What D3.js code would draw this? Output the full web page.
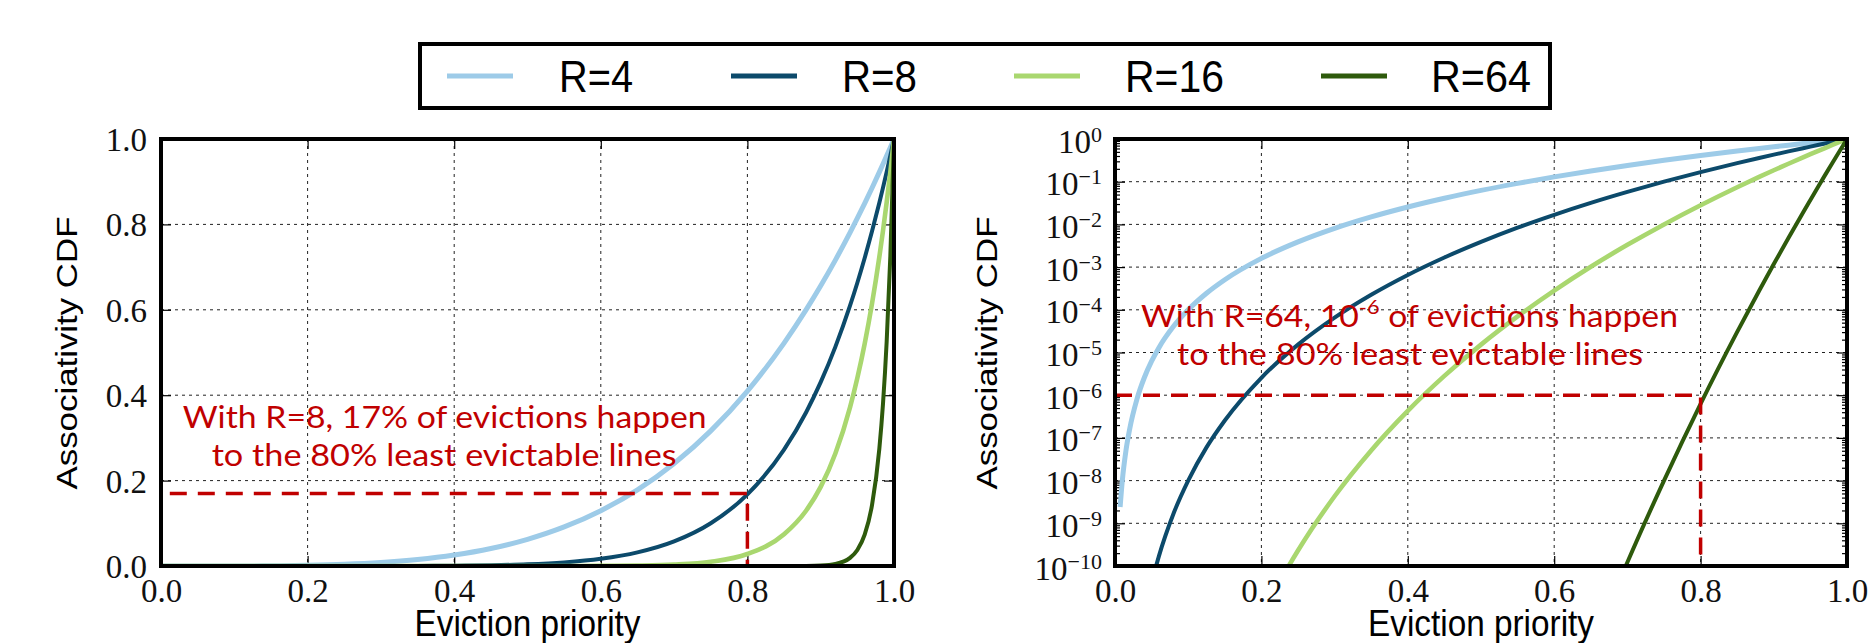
<!DOCTYPE html>
<html><head><meta charset="utf-8">
<script src="https://cdn.jsdelivr.net/npm/d3@7"></script>
<style>body{margin:0;background:#fff;overflow:hidden}</style>
</head><body>
<svg id="c" width="1869" height="643"></svg>
<script>
// ---- data ----
const priority = [0, 0.007, 0.01, 0.015, 0.02, 0.03, 0.04, 0.05, 0.06, 0.08, 0.1, 0.125, 0.15, 0.2, 0.25, 0.3, 0.35, 0.4, 0.45, 0.5, 0.55, 0.6, 0.65, 0.7, 0.75, 0.8, 0.85, 0.88, 0.9, 0.92, 0.94, 0.95, 0.96, 0.97, 0.98, 0.985, 0.99, 0.995, 1.0];
const cdfR4 = [0, 2.4e-9, 1.0e-8, 5.1e-8, 1.6e-7, 8.1e-7, 2.56e-6, 6.25e-6, 1.3e-5, 4.1e-5, 1.0e-4, 2.44e-4, 5.06e-4, 0.0016, 0.0039, 0.0081, 0.015, 0.0256, 0.041, 0.0625, 0.0915, 0.1296, 0.1785, 0.2401, 0.3164, 0.4096, 0.522, 0.5997, 0.6561, 0.7164, 0.7807, 0.8145, 0.8493, 0.8853, 0.9224, 0.9413, 0.9606, 0.9801, 1.0];
const cdfR8 = [0, 5.8e-18, 1e-16, 2.6e-15, 2.6e-14, 6.6e-13, 6.6e-12, 3.9e-11, 1.7e-10, 1.7e-9, 1e-8, 6.0e-8, 2.56e-7, 2.56e-6, 1.53e-5, 6.56e-5, 2.25e-4, 6.55e-4, 0.00168, 0.0039, 0.0084, 0.0168, 0.0319, 0.0576, 0.1001, 0.1678, 0.2725, 0.3596, 0.4305, 0.5132, 0.6096, 0.6634, 0.7214, 0.7837, 0.8508, 0.8861, 0.9227, 0.9607, 1.0];
const cdfR16 = [0, 3.3e-35, 1e-32, 6.6e-30, 6.6e-28, 4.3e-25, 4.3e-23, 1.5e-21, 2.8e-20, 2.8e-18, 1e-16, 3.6e-15, 6.6e-14, 6.6e-12, 2.3e-10, 4.3e-9, 5.1e-8, 4.3e-7, 2.83e-6, 1.53e-5, 7.0e-5, 2.82e-4, 0.00102, 0.00332, 0.01, 0.0281, 0.0743, 0.1293, 0.1853, 0.2634, 0.3716, 0.4401, 0.5204, 0.6143, 0.7238, 0.7852, 0.8515, 0.9229, 1.0];
const cdfR64 = [0, 1.2e-138, 1e-128, 1.9e-117, 1.8e-109, 3.4e-98, 3.4e-90, 5.4e-84, 6.3e-79, 6.3e-71, 1e-64, 1.6e-58, 1.9e-53, 1.8e-45, 2.9e-39, 3.4e-34, 6.6e-30, 3.4e-26, 6.4e-23, 5.4e-20, 2.4e-17, 6.3e-15, 1.06e-12, 1.22e-10, 1.0e-8, 6.3e-7, 3.04e-5, 2.8e-4, 0.00118, 0.0048, 0.0191, 0.0375, 0.0733, 0.1424, 0.2745, 0.3801, 0.5257, 0.7256, 1.0];
const seriesLabels = ["R=4", "R=8", "R=16", "R=64"];
const linTicks = [0, 0.2, 0.4, 0.6, 0.8, 1.0];
const linTickLabels = ["0.0", "0.2", "0.4", "0.6", "0.8", "1.0"];
const logTicks = [1, 1e-1, 1e-2, 1e-3, 1e-4, 1e-5, 1e-6, 1e-7, 1e-8, 1e-9, 1e-10];
const logTickExponents = ["0", "\u22121", "\u22122", "\u22123", "\u22124", "\u22125", "\u22126", "\u22127", "\u22128", "\u22129", "\u221210"];
const guideLinear = [0.012, 0.8, 0.17];   // start x, x, y
const guideLog = [0, 0.8, 1e-6];
const noteLinear = ["With R=8, 17% of evictions happen", "to the 80% least evictable lines"];
const noteLog = ["With R=64, 10", "-6", " of evictions happen", "to the 80% least evictable lines"];
const xLabel = "Eviction priority";
const yLabel = "Associativity CDF";

// ---- styling ----
const colors = ["#9dcbe8", "#0c4a6b", "#a9d76f", "#2e5a0c"];
const widths = [5, 4, 4.6, 4];
const series = [cdfR4, cdfR8, cdfR16, cdfR64];
const RED = "#c00000";
const SERIF = "'Liberation Serif','Times New Roman',serif";
const SANS = "'Liberation Sans',Arial,Helvetica,sans-serif";
const NOTE = "Lato,'Open Sans',sans-serif";

const svg = d3.select("#c");
const defs = svg.append("defs");

function fit(sel, w) { return sel.attr("textLength", w).attr("lengthAdjust", "spacingAndGlyphs"); }

function panel(o) {
  const x = d3.scaleLinear().domain([0, 1]).range([o.x0, o.x1]);
  const y = o.log ? d3.scaleLog().domain([1e-10, 1]).range([o.y1, o.y0])
                  : d3.scaleLinear().domain([0, 1]).range([o.y1, o.y0]);
  const g = svg.append("g");
  defs.append("clipPath").attr("id", o.id).append("rect")
    .attr("x", o.x0).attr("y", o.y0).attr("width", o.x1 - o.x0).attr("height", o.y1 - o.y0);

  // grid
  const grid = g.append("g").attr("stroke", "#222").attr("stroke-width", 1).attr("stroke-dasharray", "3,4").attr("fill", "none");
  grid.selectAll(".gx").data(linTicks.slice(1, -1)).join("line")
    .attr("x1", d => x(d)).attr("x2", d => x(d)).attr("y1", o.y0).attr("y2", o.y1);
  const yg = o.log ? logTicks.slice(1, -1) : linTicks.slice(1, -1);
  grid.selectAll(".gy").data(yg).join("line")
    .attr("y1", d => y(d)).attr("y2", d => y(d)).attr("x1", o.x0).attr("x2", o.x1);

  // axes with inward ticks
  const tickLen = 10;
  g.append("g").attr("transform", `translate(0,${o.y1})`)
    .call(d3.axisBottom(x).tickValues(linTicks).tickSizeInner(-tickLen).tickSizeOuter(0).tickPadding(13)
      .tickFormat((d, i) => linTickLabels[i]));
  g.append("g").attr("transform", `translate(0,${o.y0})`)
    .call(d3.axisTop(x).tickValues(linTicks).tickSizeInner(-tickLen).tickSizeOuter(0).tickFormat(""));
  let left;
  if (!o.log) {
    left = g.append("g").attr("transform", `translate(${o.x0},0)`)
      .call(d3.axisLeft(y).tickValues(linTicks).tickSizeInner(-tickLen).tickSizeOuter(0).tickPadding(14)
        .tickFormat((d, i) => linTickLabels[i]));
    g.append("g").attr("transform", `translate(${o.x1},0)`)
      .call(d3.axisRight(y).tickValues(linTicks).tickSizeInner(-tickLen).tickSizeOuter(0).tickFormat(""));
  } else {
    left = g.append("g").attr("transform", `translate(${o.x0},0)`)
      .call(d3.axisLeft(y).tickValues(logTicks).tickSizeInner(-tickLen).tickSizeOuter(0).tickPadding(13)
        .tickFormat(() => ""));
    g.append("g").attr("transform", `translate(${o.x1},0)`)
      .call(d3.axisRight(y).tickValues(logTicks).tickSizeInner(-tickLen).tickSizeOuter(0).tickFormat(""));
    const minors = [];
    logTicks.slice(1).forEach(b => { for (let m = 2; m <= 9; m++) minors.push(b * m); });
    g.append("g").attr("transform", `translate(${o.x0},0)`)
      .call(d3.axisLeft(y).tickValues(minors).tickSizeInner(-5).tickSizeOuter(0).tickFormat(""));
    g.append("g").attr("transform", `translate(${o.x1},0)`)
      .call(d3.axisRight(y).tickValues(minors).tickSizeInner(-5).tickSizeOuter(0).tickFormat(""));
    left.selectAll(".tick text").each(function (d, i) {
      const t = d3.select(this).attr("dy", 13);
      t.append("tspan").text("10");
      t.append("tspan").attr("dy", -11).attr("font-size", 22).text(logTickExponents[i]);
    });
  }
  g.selectAll(".domain").remove();
  g.selectAll(".tick line").attr("stroke", "#000").attr("stroke-width", 1.2);
  g.selectAll(".tick text").attr("font-family", SERIF).attr("font-size", 33).attr("fill", "#111");
  if (!o.log) left.selectAll(".tick text").attr("dy", 11.5);

  // curves
  const cg = g.append("g").attr("clip-path", `url(#${o.id})`);
  const line = d3.line().x(d => x(d[0])).y(d => y(d[1]))
    .defined(d => !o.log || d[1] > 0).curve(d3.curveMonotoneX);
  series.forEach((s, i) => {
    cg.append("path").datum(d3.zip(priority, s)).attr("d", line)
      .attr("fill", "none").attr("stroke", colors[i]).attr("stroke-width", widths[i])
      .attr("stroke-linejoin", "round");
  });

  // guide
  const gd = o.guide;
  g.append("path")
    .attr("d", d3.line()([[x(gd[0]), y(gd[2])], [x(gd[1]), y(gd[2])], [x(gd[1]), o.y1]]))
    .attr("fill", "none").attr("stroke", RED).attr("stroke-width", 3.5).attr("stroke-dasharray", "17,11");

  // frame
  g.append("rect").attr("x", o.x0).attr("y", o.y0).attr("width", o.x1 - o.x0).attr("height", o.y1 - o.y0)
    .attr("fill", "none").attr("stroke", "#000").attr("stroke-width", 4);

  // axis labels
  fit(g.append("text").attr("x", (o.x0 + o.x1) / 2).attr("y", 636).attr("text-anchor", "middle")
    .attr("font-family", SANS).attr("font-size", 36).attr("fill", "#000").text(xLabel), 226);
  fit(g.append("text").attr("transform", `translate(${o.ylx},${(o.y0 + o.y1) / 2 + 0.5}) rotate(-90)`)
    .attr("text-anchor", "middle").attr("font-family", SANS).attr("font-size", 30).attr("fill", "#000").text(yLabel), 273);
  return g;
}

const P1 = { id: "clipA", x0: 161, x1: 894, y0: 139, y1: 566, log: false, guide: guideLinear, ylx: 77 };
const P2 = { id: "clipB", x0: 1115, x1: 1847, y0: 139, y1: 566, log: true, guide: guideLog, ylx: 997 };
const g1 = panel(P1);
const g2 = panel(P2);

// annotations
fit(g1.append("text").attr("x", 182.7).attr("y", 428).attr("font-family", NOTE).attr("font-size", 31)
  .attr("fill", RED).text(noteLinear[0]), 524);
fit(g1.append("text").attr("x", 211.7).attr("y", 466).attr("font-family", NOTE).attr("font-size", 31)
  .attr("fill", RED).text(noteLinear[1]), 465);
const t2 = g2.append("text").attr("x", 1141).attr("y", 327).attr("font-family", NOTE).attr("font-size", 31).attr("fill", RED);
t2.append("tspan").text(noteLog[0]);
t2.append("tspan").attr("dy", -13).attr("font-size", 20).text(noteLog[1]);
t2.append("tspan").attr("dy", 13).text(noteLog[2]);
fit(t2, 537);
fit(g2.append("text").attr("x", 1177).attr("y", 365).attr("font-family", NOTE).attr("font-size", 31)
  .attr("fill", RED).text(noteLog[3]), 466);

// legend
const lg = svg.append("g");
lg.append("rect").attr("x", 420).attr("y", 44).attr("width", 1130).attr("height", 64)
  .attr("fill", "#fff").attr("stroke", "#000").attr("stroke-width", 4);
const handleX = [447, 731, 1014, 1321];
const textX = [559, 842, 1125, 1431];
const textW = [74, 75, 99, 100];
seriesLabels.forEach((lab, i) => {
  lg.append("line").attr("x1", handleX[i]).attr("x2", handleX[i] + 66).attr("y1", 76).attr("y2", 76)
    .attr("stroke", colors[i]).attr("stroke-width", 5);
  fit(lg.append("text").attr("x", textX[i]).attr("y", 92).attr("font-family", SANS).attr("font-size", 45)
    .attr("fill", "#000").text(lab), textW[i]);
});
</script>
</body></html>
